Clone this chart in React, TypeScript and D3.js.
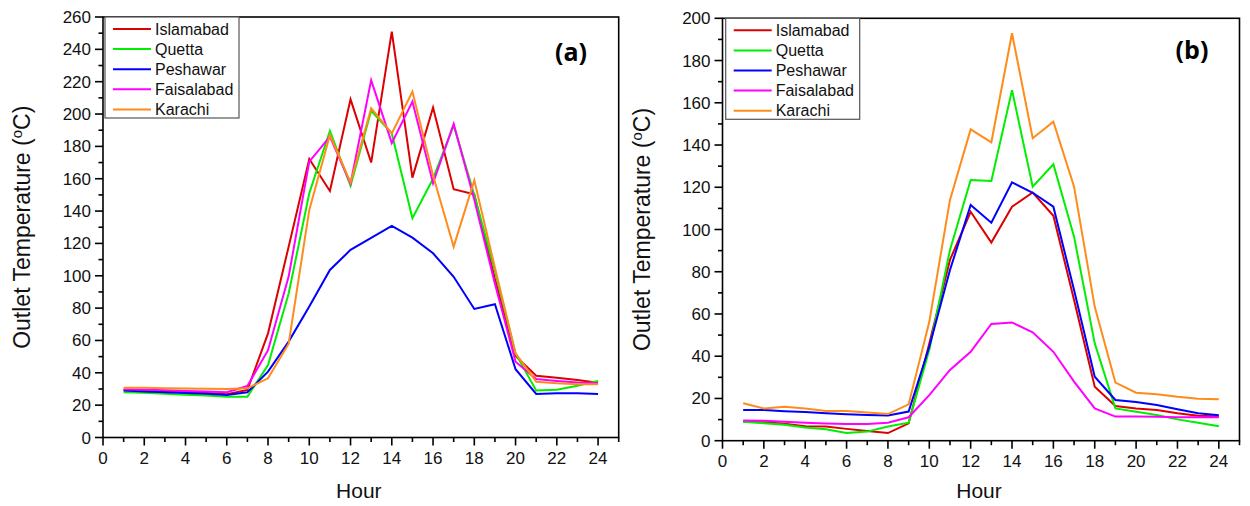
import React from "react";
import * as d3 from "d3";

const hours = [1, 2, 3, 4, 5, 6, 7, 8, 9, 10, 11, 12, 13, 14, 15, 16, 17, 18, 19, 20, 21, 22, 23, 24];
const cities = ["Islamabad", "Quetta", "Peshawar", "Faisalabad", "Karachi"];
const cityColors = ["#dd0000", "#00ee00", "#0000ff", "#ff00ff", "#ff8c1a"];

const A_islamabad = [29.4, 29.2, 28.8, 28.3, 27.6, 26.7, 29.4, 64.4, 118, 172.2, 152.4, 209.1, 170, 251, 160.7, 204, 153.5, 150.4, 98, 50.4, 38.2, 37, 35.5, 33.9];
const A_quetta = [28, 27.6, 27, 26.5, 26, 25.2, 25.2, 44.8, 89, 151, 189.5, 155.7, 202, 188, 135.6, 160, 193, 150, 103, 52, 29, 29.5, 32, 35];
const A_peshawar = [29, 28.5, 28, 27.5, 27, 26.3, 28, 40.7, 59.3, 81, 103.6, 116, 123.4, 130.8, 123.6, 113.9, 99.4, 79.5, 82.4, 42.2, 26.9, 27.3, 27.3, 26.9];
const A_faisalabad = [29.8, 29.5, 29.2, 28.8, 28.4, 28, 31.8, 54, 99.5, 170.6, 186, 157, 221, 182, 207.7, 157.2, 193.9, 147, 95, 46.9, 36.2, 35, 34, 33.5];
const A_karachi = [30.8, 30.7, 30.5, 30.3, 30.1, 30, 30.4, 36.6, 58, 140.7, 187, 157.6, 203.6, 188, 213.9, 162, 118, 159, 105, 52, 34.5, 33.5, 33, 32.9];

const B_islamabad = [9, 8.7, 8, 6.9, 6.7, 5.6, 4.6, 3.6, 8.2, 46, 85.6, 108.4, 93.8, 110.8, 117.5, 106.5, 66.6, 25.6, 16.4, 15.3, 14.5, 13, 11.8, 11.4];
const B_quetta = [9, 8.3, 7.6, 6.3, 5.4, 3.6, 4.3, 6.7, 8.5, 43, 90.3, 123.4, 123, 166, 120.3, 130.9, 96.6, 46.1, 15.3, 13.7, 12.2, 10.1, 8.5, 6.8];
const B_peshawar = [14.5, 14.5, 14, 13.6, 13, 12.5, 12.2, 11.9, 13.8, 44.5, 80.8, 111.6, 103.2, 122.3, 117.4, 110.8, 71.3, 30.3, 19.3, 18.3, 16.9, 14.9, 13, 12];
const B_faisalabad = [9.6, 9.4, 9, 8.5, 8.2, 7.9, 7.9, 8.5, 11.1, 21.6, 33.5, 42.1, 55.3, 56, 51.3, 42.1, 28, 15.3, 11.4, 11.4, 11.3, 11.1, 11.1, 11.1];
const B_karachi = [17.7, 15.3, 16.1, 15.3, 14.1, 14.1, 13.4, 12.6, 17.2, 56.3, 114, 147.4, 141.3, 192.9, 143.2, 151, 120.3, 63.4, 27.5, 22.7, 22, 20.8, 19.9, 19.6];

const xTicks = [0, 2, 4, 6, 8, 10, 12, 14, 16, 18, 20, 22, 24];
const yTicksA = [0, 20, 40, 60, 80, 100, 120, 140, 160, 180, 200, 220, 240, 260];
const yTicksB = [0, 20, 40, 60, 80, 100, 120, 140, 160, 180, 200];

const FONT = "'Liberation Sans', Arial, sans-serif";

type PanelProps = {
  x0: number; x1: number; y0: number; y1: number;
  yMax: number; yTicks: number[]; series: number[][]; label: string;
  labelX: number; labelY: number; titleX: number;
  legX: number; legY: number;
};

function Panel(p: PanelProps) {
  const x = d3.scaleLinear().domain([0, 25]).range([p.x0, p.x1]);
  const y = d3.scaleLinear().domain([0, p.yMax]).range([p.y0, p.y1]);
  const line = d3.line<number>().x((_, i) => x(hours[i])).y((d) => y(d));
  const minorX = d3.range(1, 26, 2);
  const minorY = d3.range(10, p.yMax, 20);
  const legW = 134;
  const legH = 101;
  return (
    <g>
      {p.series.map((s, i) => (
        <path key={i} d={line(s) || ""} fill="none" stroke={cityColors[i]} strokeWidth={2} strokeLinejoin="miter" />
      ))}
      <rect x={p.x0} y={p.y1} width={p.x1 - p.x0} height={p.y0 - p.y1} fill="none" stroke="#000" strokeWidth={1.6} />
      {xTicks.map((t) => (
        <g key={"xt" + t}>
          <line x1={x(t)} x2={x(t)} y1={p.y0} y2={p.y0 + 8} stroke="#000" strokeWidth={1.6} />
          <text x={x(t)} y={p.y0 + 26} textAnchor="middle" fontSize={17} fontFamily={FONT} fill="#111">{t}</text>
        </g>
      ))}
      {minorX.map((t) => (
        <line key={"xm" + t} x1={x(t)} x2={x(t)} y1={p.y0} y2={p.y0 + 4.5} stroke="#000" strokeWidth={1.6} />
      ))}
      {p.yTicks.map((t) => (
        <g key={"yt" + t}>
          <line x1={p.x0 - 8} x2={p.x0} y1={y(t)} y2={y(t)} stroke="#000" strokeWidth={1.6} />
          <text x={p.x0 - 12} y={y(t) + 6} textAnchor="end" fontSize={17} fontFamily={FONT} fill="#111">{t}</text>
        </g>
      ))}
      {minorY.map((t) => (
        <line key={"ym" + t} x1={p.x0 - 4.5} x2={p.x0} y1={y(t)} y2={y(t)} stroke="#000" strokeWidth={1.6} />
      ))}
      <text x={(p.x0 + p.x1) / 2 - 2} y={498} textAnchor="middle" fontSize={21} fontFamily={FONT} fill="#111">Hour</text>
      <text transform={`translate(${p.titleX},${(p.y0 + p.y1) / 2}) rotate(-90)`} textAnchor="middle" fontSize={23} fontFamily={FONT} fill="#111">
        Outlet Temperature (<tspan dy={-8} fontSize={15}>o</tspan><tspan dy={8}>C)</tspan>
      </text>
      <text x={p.labelX} y={p.labelY} textAnchor="middle" fontSize={25} fontWeight="bold" fontFamily="'Open Sans', 'Liberation Sans', sans-serif" fill="#000">{p.label}</text>
      <rect x={p.legX} y={p.legY} width={legW} height={legH} fill="#fff" stroke="#555" strokeWidth={1.2} />
      {cities.map((c, i) => (
        <g key={c}>
          <line x1={p.legX + 8} x2={p.legX + 46} y1={p.legY + 12 + i * 20.1} y2={p.legY + 12 + i * 20.1} stroke={cityColors[i]} strokeWidth={2} />
          <text x={p.legX + 50} y={p.legY + 12 + i * 20.1 + 5.5} fontSize={16} fontFamily={FONT} fill="#111">{c}</text>
        </g>
      ))}
    </g>
  );
}

export default function App() {
  return (
    <svg width={1250} height={506} style={{ position: "absolute", left: 0, top: 0, background: "#fff" }}>
      <rect x={0} y={0} width={1250} height={506} fill="#fff" />
      <Panel x0={103} x1={618.7} y0={437.5} y1={17} yMax={260} yTicks={yTicksA}
        series={[A_islamabad, A_quetta, A_peshawar, A_faisalabad, A_karachi]}
        label="(a)" labelX={571} labelY={61} titleX={30} legX={105} legY={17} />
      <Panel x0={722.5} x1={1239.5} y0={440.7} y1={18.3} yMax={200} yTicks={yTicksB}
        series={[B_islamabad, B_quetta, B_peshawar, B_faisalabad, B_karachi]}
        label="(b)" labelX={1192} labelY={59} titleX={650} legX={725.7} legY={18.3} />
    </svg>
  );
}
